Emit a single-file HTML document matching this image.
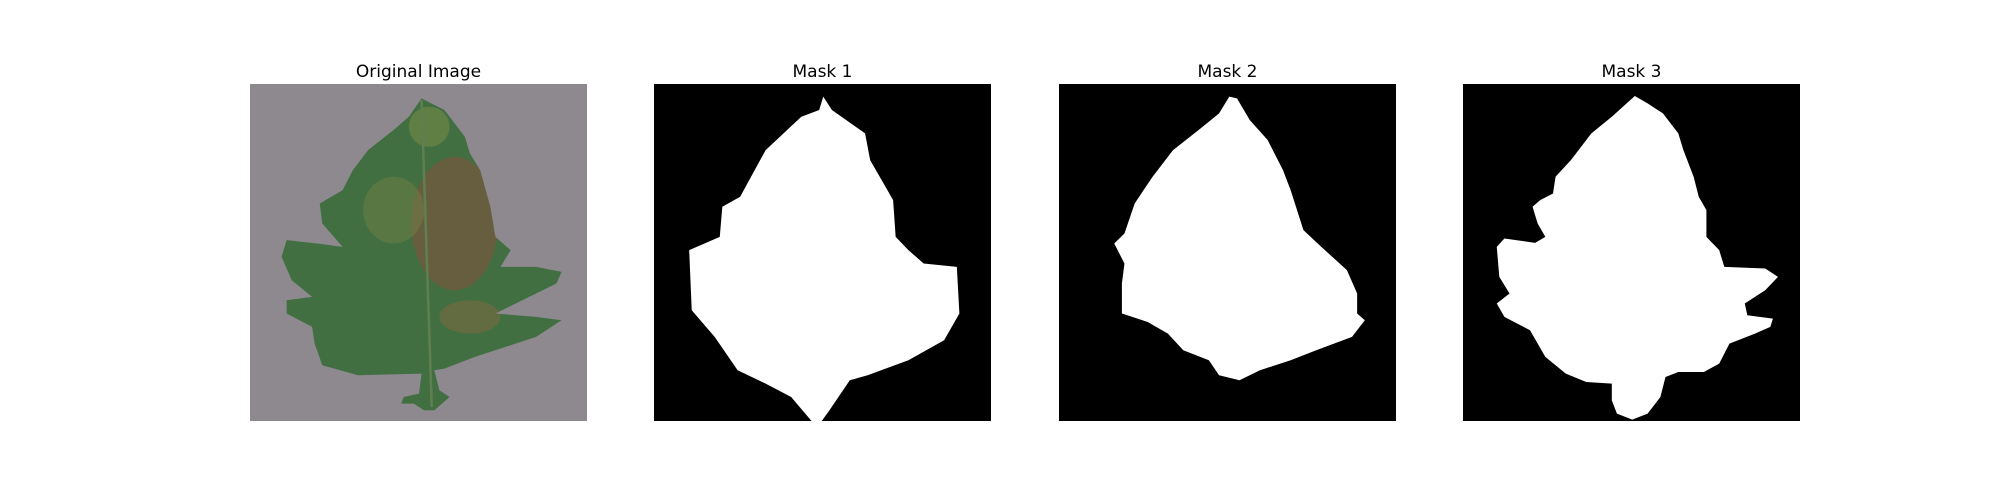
<!DOCTYPE html>
<html><head><meta charset="utf-8"><style>
html,body{margin:0;padding:0;background:#fff;width:2000px;height:500px;overflow:hidden;font-family:"Liberation Sans","DejaVu Sans",sans-serif;}
.t{position:absolute;top:62px;font-size:17px;color:#000;text-align:center;font-family:"DejaVu Sans","Liberation Sans",sans-serif;}
svg{position:absolute;}
</style></head><body>
<div class="t" style="left:250px;width:337px">Original Image</div>
<div class="t" style="left:654px;width:337px">Mask 1</div>
<div class="t" style="left:1059px;width:337px">Mask 2</div>
<div class="t" style="left:1463px;width:337px">Mask 3</div>

<svg style="left:250px;top:84px" width="337" height="337" viewBox="38 102 662 1010" preserveAspectRatio="none">
<defs>
<clipPath id="leafclip"><polygon points="375,145 420,180 460,260 470,310 490,360 510,470 520,560 550,600 530,650 600,650 650,665 640,700 560,760 520,790 600,800 650,810 600,860 480,920 420,955 400,960 410,1020 430,1040 400,1080 380,1080 360,1060 335,1060 340,1040 370,1030 375,970 250,975 180,945 165,880 160,830 110,790 110,750 160,740 120,690 100,620 110,570 170,580 220,590 180,520 175,460 220,420 240,360 270,300 320,240 350,200"/></clipPath></defs>
<rect x="38" y="102" width="662" height="1010" fill="#8e898f"/>
<g clip-path="url(#leafclip)">
<rect x="38" y="102" width="662" height="1010" fill="#416f42"/>
<ellipse cx="440" cy="520" rx="85" ry="200" fill="#6f5c40" opacity="0.85"/>
<ellipse cx="320" cy="480" rx="60" ry="100" fill="#6f7f42" opacity="0.5"/>
<ellipse cx="470" cy="800" rx="60" ry="50" fill="#7a6a40" opacity="0.6"/>
<ellipse cx="390" cy="230" rx="40" ry="60" fill="#7f9045" opacity="0.5"/>
<line x1="375" y1="150" x2="395" y2="1070" stroke="#5f7f50" stroke-width="5"/>
</g>
</svg>

<svg style="left:654px;top:84px" width="337" height="337" viewBox="831 102 661 1010" preserveAspectRatio="none">
<rect x="831" y="102" width="661" height="1010" fill="#000"/>
<polygon fill="#fff" points="1163,140 1180,180 1245,250 1255,330 1300,450 1305,560 1330,600 1360,640 1425,650 1430,790 1400,870 1330,930 1250,975 1215,990 1175,1080 1160,1112 1140,1112 1100,1040 1050,1000 995,960 950,860 905,780 900,600 960,560 965,470 1000,440 1050,300 1120,200 1155,180"/>
</svg>

<svg style="left:1059px;top:84px" width="337" height="337" viewBox="57 102 659 1010" preserveAspectRatio="none">
<rect x="57" y="102" width="659" height="1010" fill="#000"/>
<polygon fill="#fff" points="390,140 405,145 430,210 465,270 495,360 510,420 535,540 570,590 620,660 640,730 640,790 655,810 630,860 560,900 510,930 450,960 410,990 370,975 350,930 300,900 270,850 230,815 180,790 180,700 185,640 165,580 185,550 205,460 240,380 280,300 330,240 370,190"/>
</svg>

<svg style="left:1463px;top:84px" width="337" height="337" viewBox="849 102 659 1010" preserveAspectRatio="none">
<rect x="849" y="102" width="659" height="1010" fill="#000"/>
<polygon fill="#fff" points="1185,138 1210,160 1240,190 1270,250 1280,300 1300,380 1310,440 1325,480 1325,560 1350,600 1360,650 1440,655 1465,680 1440,720 1400,760 1405,795 1455,805 1450,830 1420,850 1370,880 1350,940 1320,965 1270,965 1245,980 1235,1040 1210,1090 1180,1108 1150,1090 1140,1050 1140,1000 1090,995 1050,970 1010,920 980,840 930,800 915,760 940,730 920,680 915,590 930,565 990,578 1010,560 995,520 985,470 1000,450 1025,430 1030,380 1060,330 1100,250 1140,200"/>
</svg>
</body></html>
